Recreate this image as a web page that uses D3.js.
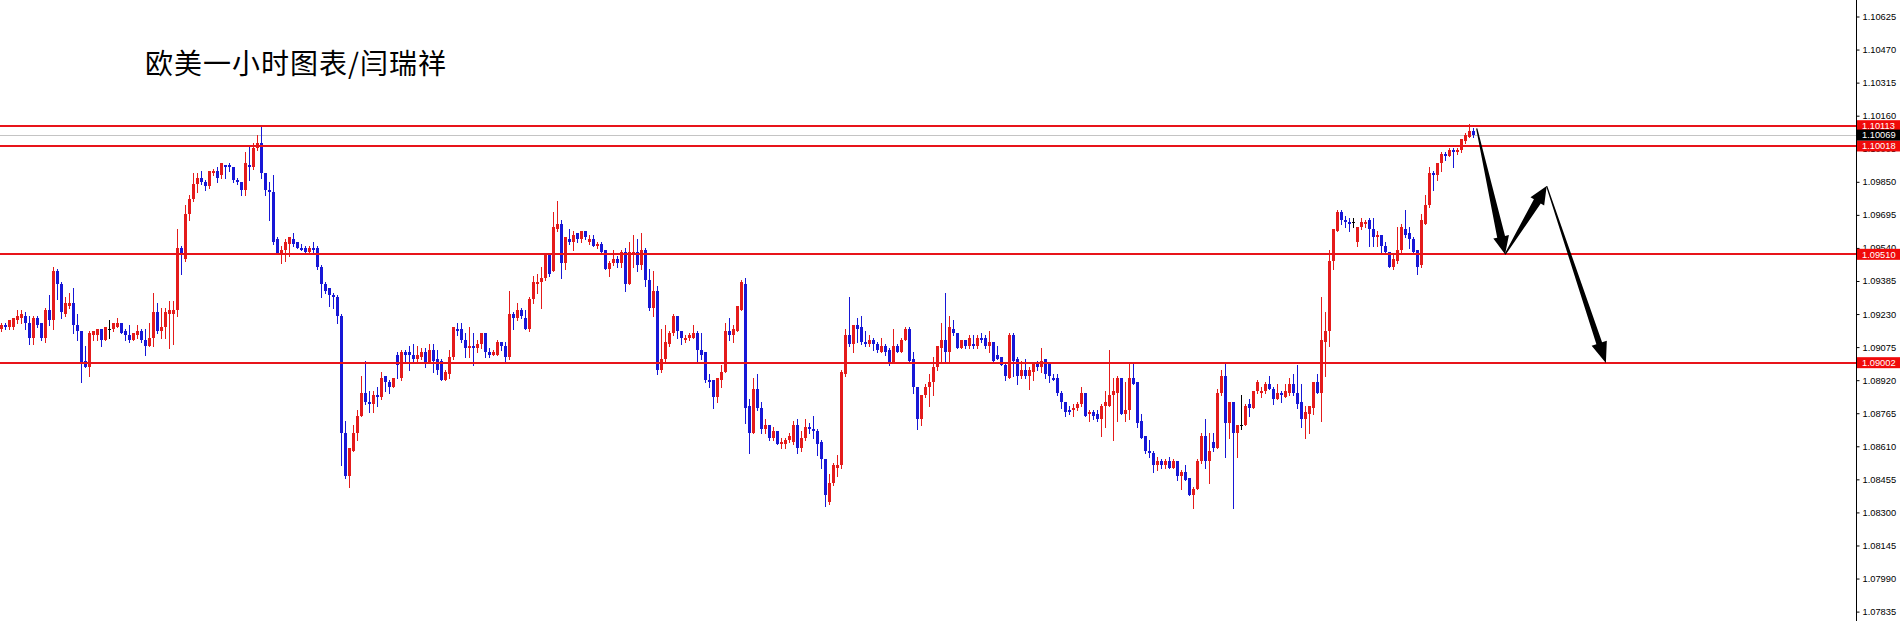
<!DOCTYPE html>
<html><head><meta charset="utf-8">
<script src="https://cdn.jsdelivr.net/npm/d3@7"></script>
<style>html,body{margin:0;padding:0;background:#fff;overflow:hidden}</style>
</head><body>
<svg id="chart" width="1900" height="621"></svg>
<script>
const title = "欧美一小时图表/闫瑞祥";
const open = [
1.0916,1.0918,1.0917,1.0917,1.0920,1.0921,1.0922,1.0919,1.0912,1.0921,
1.0919,1.0912,1.0925,1.0920,1.0943,1.0937,1.0923,1.0927,1.0928,1.0918,
1.0915,1.0901,1.0898,1.0913,1.0913,1.0916,1.0911,1.0916,1.0916,1.0917,
1.0919,1.0915,1.0913,1.0911,1.0913,1.0915,1.0911,1.0908,1.0912,1.0924,
1.0915,1.0917,1.0923,1.0923,1.0925,1.0954,1.0949,1.0970,1.0977,1.0984,
1.0987,1.0985,1.0983,1.0989,1.0990,1.0988,1.0993,1.0993,1.0992,1.0986,
1.0985,1.0981,1.0993,1.0992,1.1001,1.1003,1.0989,1.0981,1.0980,1.0958,
1.0951,1.0953,1.0956,1.0958,1.0957,1.0954,1.0954,1.0952,1.0954,1.0954,
1.0945,1.0937,1.0935,1.0932,1.0931,1.0922,1.0867,1.0847,1.0859,1.0867,
1.0875,1.0886,1.0882,1.0881,1.0885,1.0884,1.0894,1.0891,1.0889,1.0904,
1.0893,1.0905,1.0905,1.0904,1.0902,1.0903,1.0905,1.0900,1.0906,1.0902,
1.0901,1.0892,1.0895,1.0903,1.0916,1.0916,1.0911,1.0907,1.0908,1.0907,
1.0909,1.0914,1.0905,1.0904,1.0904,1.0910,1.0908,1.0903,1.0923,1.0921,
1.0925,1.0921,1.0916,1.0930,1.0937,1.0938,1.0940,1.0951,1.0943,1.0963,
1.0965,1.0947,1.0958,1.0957,1.0961,1.0958,1.0962,1.0957,1.0958,1.0955,
1.0956,1.0953,1.0944,1.0947,1.0949,1.0947,1.0952,1.0937,1.0951,1.0952,
1.0946,1.0953,1.0939,1.0926,1.0934,1.0897,1.0902,1.0909,1.0914,1.0922,
1.0915,1.0911,1.0912,1.0912,1.0914,1.0906,1.0905,1.0892,1.0892,1.0884,
1.0892,1.0896,1.0915,1.0913,1.0915,1.0925,1.0937,1.0880,1.0867,1.0888,
1.0879,1.0869,1.0871,1.0865,1.0868,1.0862,1.0862,1.0864,1.0863,1.0871,
1.0860,1.0865,1.0870,1.0869,1.0868,1.0863,1.0855,1.0835,1.0844,1.0851,
1.0852,1.0895,1.0913,1.0909,1.0918,1.0917,1.0910,1.0909,1.0911,1.0909,
1.0905,1.0908,1.0906,1.0900,1.0908,1.0905,1.0911,1.0916,1.0902,1.0889,
1.0874,1.0885,1.0889,1.0891,1.0898,1.0907,1.0911,1.0905,1.0916,1.0914,
1.0907,1.0911,1.0908,1.0909,1.0908,1.0912,1.0912,1.0908,1.0910,1.0904,
1.0903,1.0899,1.0893,1.0913,1.0902,1.0894,1.0897,1.0894,1.0896,1.0900,
1.0898,1.0902,1.0900,1.0893,1.0893,1.0886,1.0882,1.0878,1.0878,1.0879,
1.0881,1.0886,1.0876,1.0877,1.0876,1.0874,1.0880,1.0880,1.0885,1.0886,
1.0893,1.0876,1.0878,1.0893,1.0891,1.0873,1.0866,1.0859,1.0858,1.0852,
1.0854,1.0852,1.0854,1.0851,1.0854,1.0847,1.0849,1.0846,1.0838,1.0841,
1.0854,1.0866,1.0854,1.0863,1.0860,1.0886,1.0894,1.0872,1.0882,1.0867,
1.0871,1.0871,1.0881,1.0879,1.0887,1.0886,1.0887,1.0890,1.0888,1.0883,
1.0886,1.0884,1.0886,1.0890,1.0886,1.0882,1.0874,1.0876,1.0879,1.0891,
1.0886,1.0910,1.0915,1.0948,1.0962,1.0971,1.0967,1.0966,1.0966,1.0957,
1.0964,1.0965,1.0967,1.0963,1.0959,1.0960,1.0955,1.0952,1.0945,1.0948,
1.0953,1.0963,1.0961,1.0958,1.0953,1.0946,1.0965,1.0974,1.0989,1.0988,
1.0994,1.0998,1.0997,1.1000,1.0999,1.1000,1.1004,1.1006,1.1009];
const high = [
1.0919,1.0919,1.0920,1.0921,1.0925,1.0925,1.0924,1.0922,1.0922,1.0922,
1.0919,1.0926,1.0932,1.0945,1.0944,1.0938,1.0931,1.0933,1.0935,1.0923,
1.0915,1.0908,1.0915,1.0915,1.0916,1.0916,1.0917,1.0920,1.0919,1.0921,
1.0919,1.0916,1.0918,1.0914,1.0918,1.0916,1.0916,1.0919,1.0933,1.0928,
1.0926,1.0926,1.0929,1.0929,1.0963,1.0955,1.0974,1.0979,1.0989,1.0989,
1.0990,1.0986,1.0990,1.0991,1.0992,1.0994,1.0993,1.0994,1.0992,1.0987,
1.0985,1.0999,1.1002,1.1003,1.1007,1.1011,1.0989,1.0985,1.0988,1.0959,
1.0955,1.0958,1.0959,1.0961,1.0957,1.0956,1.0955,1.0955,1.0957,1.0955,
1.0946,1.0938,1.0935,1.0933,1.0932,1.0923,1.0873,1.0860,1.0871,1.0878,
1.0894,1.0901,1.0887,1.0887,1.0889,1.0896,1.0894,1.0892,1.0893,1.0905,
1.0906,1.0906,1.0908,1.0909,1.0908,1.0907,1.0907,1.0909,1.0909,1.0906,
1.0902,1.0897,1.0906,1.0917,1.0919,1.0919,1.0914,1.0917,1.0914,1.0911,
1.0914,1.0914,1.0907,1.0906,1.0911,1.0910,1.0910,1.0934,1.0924,1.0928,
1.0926,1.0925,1.0931,1.0941,1.0942,1.0945,1.0951,1.0951,1.0971,1.0976,
1.0967,1.0959,1.0963,1.0962,1.0961,1.0962,1.0962,1.0960,1.0960,1.0957,
1.0957,1.0953,1.0948,1.0953,1.0950,1.0953,1.0954,1.0957,1.0960,1.0958,
1.0961,1.0954,1.0944,1.0943,1.0936,1.0916,1.0918,1.0915,1.0923,1.0922,
1.0915,1.0913,1.0914,1.0918,1.0915,1.0914,1.0905,1.0895,1.0892,1.0893,
1.0899,1.0919,1.0921,1.0918,1.0927,1.0939,1.0940,1.0883,1.0893,1.0895,
1.0882,1.0874,1.0871,1.0870,1.0868,1.0865,1.0865,1.0867,1.0873,1.0874,
1.0868,1.0874,1.0872,1.0875,1.0869,1.0864,1.0855,1.0848,1.0853,1.0857,
1.0897,1.0916,1.0931,1.0918,1.0921,1.0922,1.0915,1.0913,1.0912,1.0910,
1.0912,1.0909,1.0907,1.0916,1.0909,1.0912,1.0917,1.0917,1.0905,1.0889,
1.0885,1.0890,1.0895,1.0903,1.0908,1.0919,1.0933,1.0922,1.0920,1.0914,
1.0911,1.0911,1.0913,1.0913,1.0913,1.0914,1.0913,1.0915,1.0910,1.0908,
1.0903,1.0900,1.0914,1.0914,1.0903,1.0901,1.0902,1.0898,1.0900,1.0901,
1.0907,1.0902,1.0900,1.0895,1.0895,1.0887,1.0882,1.0880,1.0881,1.0882,
1.0889,1.0886,1.0878,1.0878,1.0878,1.0881,1.0887,1.0906,1.0893,1.0894,
1.0893,1.0891,1.0900,1.0900,1.0891,1.0876,1.0866,1.0864,1.0859,1.0856,
1.0855,1.0855,1.0856,1.0855,1.0854,1.0850,1.0852,1.0846,1.0842,1.0855,
1.0867,1.0874,1.0867,1.0867,1.0888,1.0897,1.0900,1.0882,1.0882,1.0871,
1.0885,1.0881,1.0883,1.0887,1.0892,1.0889,1.0891,1.0894,1.0889,1.0890,
1.0887,1.0890,1.0893,1.0895,1.0899,1.0890,1.0880,1.0880,1.0891,1.0895,
1.0931,1.0924,1.0953,1.0963,1.0972,1.0972,1.0969,1.0968,1.0968,1.0964,
1.0968,1.0967,1.0968,1.0968,1.0962,1.0960,1.0957,1.0952,1.0951,1.0964,
1.0965,1.0972,1.0964,1.0959,1.0953,1.0970,1.0979,1.0992,1.0990,1.0994,
1.0999,1.0999,1.1001,1.1001,1.1001,1.1005,1.1008,1.1012,1.1010];
const low = [
1.0915,1.0916,1.0916,1.0916,1.0919,1.0919,1.0916,1.0909,1.0909,1.0917,
1.0911,1.0910,1.0918,1.0916,1.0930,1.0921,1.0922,1.0926,1.0914,1.0911,
1.0891,1.0898,1.0894,1.0911,1.0911,1.0908,1.0911,1.0912,1.0915,1.0917,
1.0914,1.0911,1.0910,1.0911,1.0912,1.0910,1.0904,1.0908,1.0908,1.0914,
1.0912,1.0912,1.0907,1.0909,1.0922,1.0942,1.0948,1.0967,1.0976,1.0980,
1.0984,1.0981,1.0982,1.0988,1.0985,1.0987,1.0987,1.0990,1.0985,1.0984,
1.0979,1.0979,1.0986,1.0991,1.1000,1.0987,1.0979,1.0967,1.0956,1.0951,
1.0947,1.0948,1.0950,1.0955,1.0954,1.0953,1.0952,1.0952,1.0952,1.0944,
1.0931,1.0933,1.0927,1.0926,1.0919,1.0852,1.0846,1.0842,1.0859,1.0864,
1.0875,1.0881,1.0877,1.0877,1.0880,1.0883,1.0887,1.0886,1.0889,1.0893,
1.0892,1.0900,1.0897,1.0900,1.0901,1.0902,1.0898,1.0900,1.0896,1.0895,
1.0892,1.0892,1.0893,1.0902,1.0913,1.0910,1.0903,1.0903,1.0899,1.0905,
1.0907,1.0903,1.0903,1.0904,1.0904,1.0906,1.0900,1.0902,1.0916,1.0920,
1.0921,1.0916,1.0915,1.0928,1.0933,1.0926,1.0939,1.0941,1.0943,1.0962,
1.0940,1.0944,1.0956,1.0953,1.0957,1.0957,1.0958,1.0956,1.0955,1.0954,
1.0952,1.0944,1.0941,1.0946,1.0945,1.0945,1.0934,1.0937,1.0945,1.0943,
1.0944,1.0936,1.0925,1.0922,1.0895,1.0896,1.0901,1.0908,1.0913,1.0912,
1.0909,1.0910,1.0911,1.0912,1.0900,1.0902,1.0891,1.0889,1.0879,1.0882,
1.0889,1.0896,1.0911,1.0910,1.0915,1.0925,1.0872,1.0858,1.0867,1.0878,
1.0867,1.0867,1.0864,1.0864,1.0862,1.0860,1.0860,1.0863,1.0862,1.0858,
1.0859,1.0864,1.0867,1.0865,1.0857,1.0851,1.0833,1.0834,1.0843,1.0847,
1.0851,1.0894,1.0908,1.0905,1.0910,1.0909,1.0908,1.0908,1.0906,1.0905,
1.0905,1.0904,1.0899,1.0900,1.0905,1.0905,1.0911,1.0901,1.0886,1.0869,
1.0871,1.0884,1.0880,1.0885,1.0897,1.0901,1.0901,1.0900,1.0913,1.0907,
1.0907,1.0907,1.0907,1.0907,1.0907,1.0910,1.0907,1.0905,1.0901,1.0902,
1.0899,1.0892,1.0893,1.0894,1.0890,1.0893,1.0893,1.0888,1.0892,1.0897,
1.0896,1.0893,1.0891,1.0892,1.0885,1.0879,1.0875,1.0876,1.0875,1.0878,
1.0880,1.0875,1.0873,1.0874,1.0873,1.0866,1.0870,1.0880,1.0864,1.0873,
1.0876,1.0873,1.0874,1.0890,1.0870,1.0865,1.0858,1.0856,1.0849,1.0850,
1.0851,1.0851,1.0851,1.0851,1.0845,1.0841,1.0845,1.0838,1.0832,1.0841,
1.0853,1.0851,1.0844,1.0859,1.0860,1.0885,1.0856,1.0865,1.0832,1.0856,
1.0869,1.0871,1.0875,1.0879,1.0886,1.0884,1.0886,1.0888,1.0881,1.0883,
1.0882,1.0884,1.0885,1.0885,1.0879,1.0870,1.0865,1.0867,1.0876,1.0886,
1.0873,1.0894,1.0908,1.0944,1.0962,1.0965,1.0964,1.0962,1.0964,1.0955,
1.0963,1.0964,1.0955,1.0955,1.0955,1.0952,1.0951,1.0945,1.0944,1.0947,
1.0952,1.0959,1.0954,1.0952,1.0942,1.0945,1.0965,1.0973,1.0981,1.0986,
1.0990,1.0995,1.0997,1.0992,1.0998,1.0999,1.1003,1.1006,1.1006];
const close = [
1.0918,1.0917,1.0920,1.0921,1.0922,1.0923,1.0919,1.0912,1.0921,1.0918,
1.0912,1.0925,1.0920,1.0943,1.0937,1.0924,1.0928,1.0928,1.0918,1.0915,
1.0900,1.0898,1.0914,1.0915,1.0916,1.0911,1.0917,1.0916,1.0919,1.0919,
1.0914,1.0913,1.0911,1.0914,1.0915,1.0911,1.0908,1.0912,1.0924,1.0915,
1.0917,1.0924,1.0925,1.0925,1.0954,1.0951,1.0970,1.0977,1.0984,1.0987,
1.0985,1.0983,1.0990,1.0990,1.0987,1.0994,1.0992,1.0992,1.0986,1.0985,
1.0981,1.0994,1.0992,1.1001,1.1003,1.0989,1.0981,1.0980,1.0957,1.0951,
1.0953,1.0957,1.0959,1.0956,1.0954,1.0953,1.0952,1.0954,1.0953,1.0945,
1.0937,1.0934,1.0932,1.0931,1.0922,1.0867,1.0847,1.0860,1.0867,1.0875,
1.0886,1.0882,1.0881,1.0885,1.0884,1.0893,1.0891,1.0889,1.0893,1.0899,
1.0905,1.0904,1.0904,1.0902,1.0904,1.0905,1.0900,1.0906,1.0901,1.0897,
1.0892,1.0896,1.0903,1.0917,1.0915,1.0911,1.0907,1.0908,1.0907,1.0909,
1.0914,1.0905,1.0904,1.0905,1.0910,1.0908,1.0903,1.0923,1.0921,1.0925,
1.0922,1.0916,1.0930,1.0938,1.0938,1.0940,1.0951,1.0942,1.0964,1.0965,
1.0947,1.0959,1.0957,1.0960,1.0958,1.0962,1.0959,1.0958,1.0955,1.0956,
1.0952,1.0944,1.0947,1.0949,1.0947,1.0952,1.0937,1.0952,1.0952,1.0946,
1.0953,1.0939,1.0926,1.0934,1.0897,1.0902,1.0910,1.0914,1.0922,1.0915,
1.0912,1.0912,1.0913,1.0914,1.0906,1.0904,1.0892,1.0891,1.0884,1.0893,
1.0896,1.0915,1.0913,1.0916,1.0927,1.0938,1.0879,1.0867,1.0888,1.0879,
1.0869,1.0871,1.0865,1.0868,1.0862,1.0863,1.0864,1.0866,1.0871,1.0860,
1.0865,1.0870,1.0869,1.0868,1.0862,1.0855,1.0838,1.0844,1.0852,1.0852,
1.0896,1.0913,1.0909,1.0918,1.0916,1.0910,1.0909,1.0911,1.0909,1.0906,
1.0908,1.0905,1.0900,1.0908,1.0905,1.0911,1.0916,1.0901,1.0889,1.0874,
1.0885,1.0889,1.0891,1.0898,1.0908,1.0911,1.0905,1.0917,1.0914,1.0907,
1.0911,1.0908,1.0912,1.0908,1.0912,1.0911,1.0908,1.0910,1.0901,1.0902,
1.0899,1.0894,1.0913,1.0901,1.0894,1.0897,1.0894,1.0897,1.0900,1.0898,
1.0901,1.0895,1.0894,1.0892,1.0886,1.0882,1.0877,1.0877,1.0879,1.0881,
1.0886,1.0875,1.0877,1.0875,1.0874,1.0880,1.0882,1.0885,1.0887,1.0893,
1.0876,1.0878,1.0893,1.0890,1.0872,1.0865,1.0859,1.0858,1.0852,1.0854,
1.0852,1.0854,1.0851,1.0854,1.0847,1.0849,1.0845,1.0838,1.0841,1.0854,
1.0866,1.0854,1.0859,1.0860,1.0886,1.0894,1.0872,1.0882,1.0867,1.0871,
1.0871,1.0880,1.0879,1.0887,1.0891,1.0887,1.0890,1.0888,1.0883,1.0886,
1.0885,1.0887,1.0890,1.0886,1.0881,1.0874,1.0877,1.0880,1.0891,1.0886,
1.0911,1.0915,1.0948,1.0963,1.0971,1.0967,1.0966,1.0965,1.0966,1.0964,
1.0966,1.0966,1.0963,1.0959,1.0960,1.0955,1.0952,1.0945,1.0949,1.0953,
1.0964,1.0960,1.0958,1.0952,1.0945,1.0967,1.0974,1.0989,1.0988,1.0994,
1.0998,1.0997,1.1000,1.0999,1.1000,1.1005,1.1007,1.1009,1.1007];

const tickLabels = ["1.10625","1.10470","1.10315","1.10160","1.10005","1.09850","1.09695",
  "1.09540","1.09385","1.09230","1.09075","1.08920","1.08765","1.08610","1.08455",
  "1.08300","1.08145","1.07990","1.07835"];
const levelPrices = [1.10113, 1.10018, 1.09510, 1.09002];
const bidPrice = 1.10069;
const arrowBars = [368.8, 375.9, 386.3, 401.1];
const arrowPrices = [1.1010, 1.0951, 1.0983, 1.0900];

const W = 1900, H = 621, axisX = 1856;
const RED = "#e41b1b", BLUE = "#1717d6", LINE_RED = "#e8141a";

const svg = d3.select("#chart");
const x = d3.scaleLinear().domain([0, 463.75]).range([1.5, 1856.5]);
const y = d3.scaleLinear().domain([1.07835, 1.10625]).range([611.6, 16.5]);

const n = Math.min(open.length, high.length, low.length, close.length);
const bars = d3.range(n).map(i => ({i, o: open[i], h: high[i], l: low[i], c: close[i]}));

// horizontal bid line
svg.append("line").attr("x1", 0).attr("x2", axisX)
  .attr("y1", Math.round(y(bidPrice)) + 0.5).attr("y2", Math.round(y(bidPrice)) + 0.5)
  .attr("stroke", "#c4c4c4").attr("stroke-width", 1);

// candles
const g = svg.append("g");
bars.forEach(b => {
  const col = b.c > b.o ? RED : (b.c < b.o ? BLUE : "#000");
  const top = Math.max(b.h, b.o, b.c), bot = Math.min(b.l, b.o, b.c);
  g.append("line").attr("x1", x(b.i)).attr("x2", x(b.i))
    .attr("y1", Math.round(y(top))).attr("y2", Math.round(y(bot)) + 1)
    .attr("stroke", col).attr("stroke-width", 1);
  const yt = Math.round(y(Math.max(b.o, b.c))), yb = Math.round(y(Math.min(b.o, b.c)));
  g.append("rect").attr("x", x(b.i) - 1.5).attr("width", 3)
    .attr("y", yt).attr("height", Math.max(1, yb - yt)).attr("fill", col);
});

// level lines
svg.selectAll("line.level").data(levelPrices).enter().append("line")
  .attr("class", "level").attr("x1", 0).attr("x2", axisX)
  .attr("y1", d => Math.round(y(d))).attr("y2", d => Math.round(y(d)))
  .attr("stroke", LINE_RED).attr("stroke-width", 2);

// arrows
const pts = arrowBars.map((b, k) => [x(b), y(arrowPrices[k])]);
function wedge(a, b, headLen, headW, s0, s1) {
  const dx = b[0] - a[0], dy = b[1] - a[1], len = Math.hypot(dx, dy);
  const ux = dx / len, uy = dy / len, nx = -uy, ny = ux;
  const bx = b[0] - ux * headLen, by = b[1] - uy * headLen;
  return [[a[0] + nx * s0, a[1] + ny * s0], [bx + nx * s1, by + ny * s1], [bx + nx * headW, by + ny * headW],
    b, [bx - nx * headW, by - ny * headW], [bx - nx * s1, by - ny * s1], [a[0] - nx * s0, a[1] - ny * s0]];
}
const arrowSpecs = [[18, 8, 0.6, 4], [18, 8, 0.6, 4], [21, 8, 0.6, 3]];
for (let k = 0; k < pts.length - 1; k++) {
  const s = arrowSpecs[k];
  svg.append("polygon").attr("points", wedge(pts[k], pts[k + 1], s[0], s[1], s[2], s[3]).map(p => p.join(",")).join(" "))
    .attr("fill", "#000");
}

// axis
svg.append("rect").attr("x", axisX + 1).attr("y", 0).attr("width", W - axisX - 1).attr("height", H).attr("fill", "#fff");
const axis = d3.axisRight(y).tickValues(tickLabels.map(Number)).tickFormat((d, k) => tickLabels[k])
  .tickSize(3).tickPadding(3);
const ag = svg.append("g").attr("transform", `translate(${axisX + 0.5},0)`).call(axis);
ag.select(".domain").remove();
ag.selectAll("text").attr("font-family", "'Liberation Sans', Arial, sans-serif").attr("font-size", "9.3px").attr("fill", "#000");
ag.selectAll("line").attr("stroke", "#000");
svg.append("line").attr("x1", axisX + 0.5).attr("x2", axisX + 0.5).attr("y1", 0).attr("y2", H).attr("stroke", "#000");

// price boxes
const boxes = levelPrices.map(p => ({p, fill: "#f00a0a"})).concat([{p: bidPrice, fill: "#000"}]);
boxes.forEach(bx => {
  const yy = y(bx.p);
  svg.append("rect").attr("x", axisX + 1).attr("y", yy - 5.5).attr("width", W - axisX - 1).attr("height", 11).attr("fill", bx.fill);
  svg.append("text").attr("x", axisX + 6).attr("y", yy).attr("dy", "0.35em")
    .attr("font-family", "'Liberation Sans', Arial, sans-serif").attr("font-size", "9.3px").attr("fill", "#fff")
    .text(bx.p.toFixed(5));
});

// title
svg.append("text").attr("x", 145).attr("y", 74).attr("font-family", "'Noto Sans CJK SC', sans-serif")
  .attr("font-size", "28px").attr("letter-spacing", "1px").attr("fill", "#000").text(title);
</script>
</body></html>
